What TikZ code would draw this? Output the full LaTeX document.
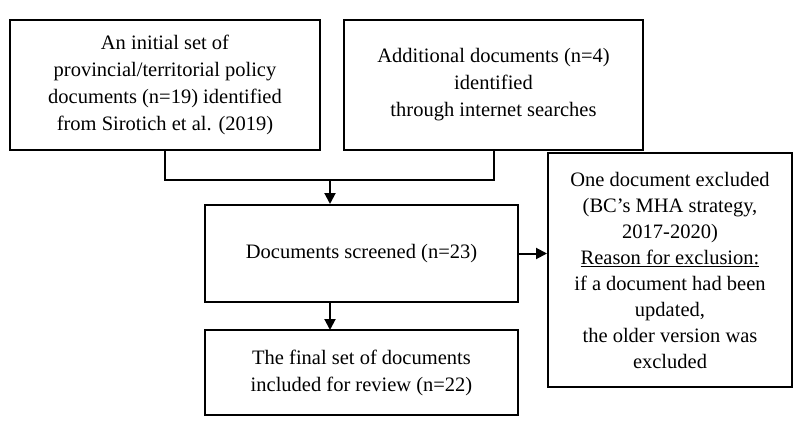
\documentclass[tikz,border=0pt]{standalone}
\usepackage{fontspec}
\setmainfont{Liberation Serif}
\usetikzlibrary{arrows.meta}
\begin{document}
\begin{tikzpicture}[x=1pt,y=-1pt,
  box/.style={draw,line width=2pt,align=center,font=\fontsize{20.5}{27}\selectfont,inner sep=0pt},
  ln/.style={line width=2pt},
  arr/.style={line width=2pt,-{Triangle[length=11pt,width=11pt]}}]
\useasboundingbox (0,0) rectangle (800,433);
\node[box,minimum width=310,minimum height=130] (a) at (165,85) {An initial set of\\provincial/territorial policy\\documents (n=19) identified\\from Sirotich et al. (2019)};
\node[box,minimum width=299,minimum height=130] (b) at (493.5,85) {Additional documents (n=4)\\identified\\through internet searches};
\node[box,minimum width=313,minimum height=97] (c) at (361.5,253.5) {Documents screened (n=23)};
\node[box,minimum width=313,minimum height=85] (d) at (361.5,372.5) {The final set of documents\\included for review (n=22)};
\node[box,minimum width=244,minimum height=234,font=\fontsize{20.5}{26}\selectfont] (e) at (670,270) {One document excluded\\(BC’s MHA strategy,\\2017-2020)\\\underline{Reason for exclusion:}\\if a document had been\\updated,\\the older version was\\excluded};
\coordinate (j) at (330,180);
\draw[ln] (a.south) |- (j) -| (b.south);
\draw[arr] (j) -- (j|-c.north);
\draw[arr] (c.east) -- (c.east-|e.west);
\draw[arr] (330,302) -- (330,330);
\end{tikzpicture}
\end{document}
